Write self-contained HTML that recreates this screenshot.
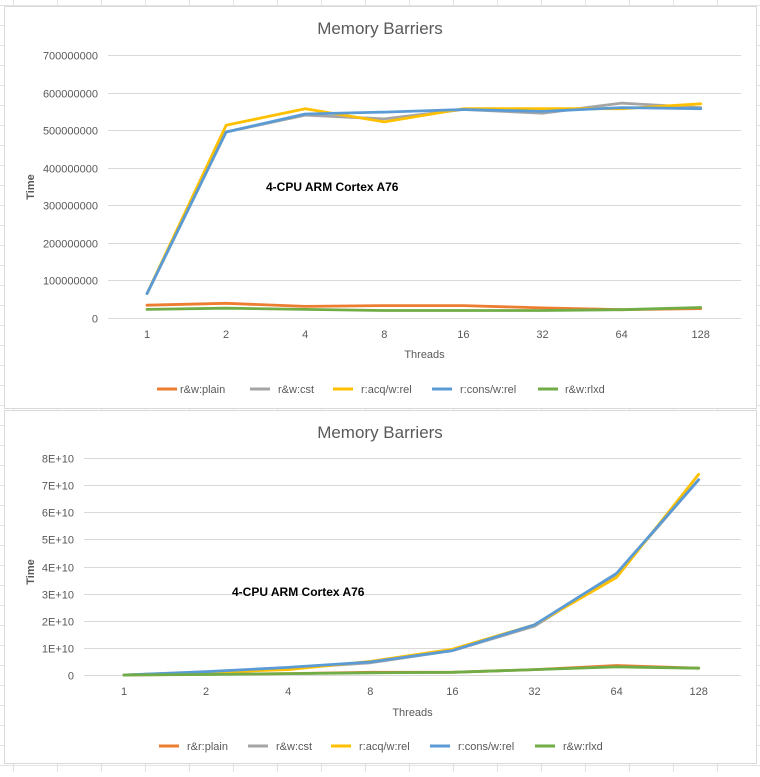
<!DOCTYPE html>
<html><head><meta charset="utf-8"><style>
html,body{margin:0;padding:0;background:#fff;}
body{width:760px;height:772px;overflow:hidden;font-family:"Liberation Sans",sans-serif;}
svg text{font-family:"Liberation Sans",sans-serif;}
</style></head><body>
<svg id="svg" width="760" height="772" viewBox="0 0 760 772" xmlns="http://www.w3.org/2000/svg">
<g id="bggrid"></g>
<rect x="4.5" y="6.5" width="752" height="402" fill="#fff" stroke="#d9d9d9"/>
<rect x="4.5" y="410.5" width="752" height="353" fill="#fff" stroke="#d9d9d9"/>
<g id="c1"></g>
<g id="c2"></g>
</svg>
<script>
const categories = ["1","2","4","8","16","32","64","128"];
const seriesNames1 = ["r&w:plain","r&w:cst","r:acq/w:rel","r:cons/w:rel","r&w:rlxd"];
const seriesNames2 = ["r&r:plain","r&w:cst","r:acq/w:rel","r:cons/w:rel","r&w:rlxd"];
const colors = ["#ED7D31","#A5A5A5","#FFC000","#5B9BD5","#70AD47"];
// top chart values
const top_plain = [34e6,39e6,31e6,33e6,33e6,27e6,22e6,25e6];
const top_cst   = [65e6,495e6,540e6,530e6,555e6,545e6,572e6,560e6];
const top_acq   = [65e6,513e6,557e6,522e6,557e6,557e6,557e6,570e6];
const top_cons  = [65e6,495e6,543e6,548e6,555e6,550e6,560e6,557e6];
const top_rlxd  = [23e6,26e6,23e6,20e6,20e6,20e6,22e6,28e6];
const topTicks = ["0","100000000","200000000","300000000","400000000","500000000","600000000","700000000"];
const topTickVals = [0,1e8,2e8,3e8,4e8,5e8,6e8,7e8];
// bottom chart values
const bot_plain = [0,0.03e10,0.05e10,0.1e10,0.1e10,0.2e10,0.35e10,0.25e10];
const bot_cst   = [0,0.1e10,0.25e10,0.45e10,0.9e10,1.8e10,3.7e10,7.2e10];
const bot_acq   = [0,0.1e10,0.2e10,0.5e10,0.95e10,1.85e10,3.6e10,7.4e10];
const bot_cons  = [0,0.12e10,0.28e10,0.48e10,0.9e10,1.85e10,3.75e10,7.2e10];
const bot_rlxd  = [0,0.02e10,0.05e10,0.08e10,0.1e10,0.2e10,0.3e10,0.25e10];
const botTicks = ["0","1E+10","2E+10","3E+10","4E+10","5E+10","6E+10","7E+10","8E+10"];
const botTickVals = [0,1e10,2e10,3e10,4e10,5e10,6e10,7e10,8e10];

const NS="http://www.w3.org/2000/svg";
function mk(parent,tag,attrs,text){const e=document.createElementNS(NS,tag);for(const k in attrs)e.setAttribute(k,attrs[k]);if(text!==undefined)e.textContent=text;parent.appendChild(e);return e;}

// background spreadsheet grid
const bg=document.getElementById('bggrid');
for(let x=13;x<760;x+=44){const l=mk(bg,'line',{x1:x+.5,y1:0,x2:x+.5,y2:772,stroke:'#e3e3e3'});}
for(let y=5;y<772;y+=20){const l=mk(bg,'line',{x1:0,y1:y+.5,x2:760,y2:y+.5,stroke:'#e3e3e3'});}

function chart(g,cfg){
  const {x0,dx,y0,ymax,ytop,gl,gr,tickLabels,tickVals,series,names,titleY,xlabY,thrY,timeY,legY,legItems,annX,annY}=cfg;
  const xs=i=>x0+i*dx;
  const ys=v=>y0-(v/ymax)*(y0-ytop);
  let t=mk(g,'text',{x:380,y:titleY,'text-anchor':'middle','font-size':17,fill:'#595959'},'Memory Barriers');
  
  tickVals.forEach((v,i)=>{
    const y=Math.round(ys(v))+.5;
    const l=mk(g,'line',{x1:gl,y1:y,x2:gr,y2:y,stroke:'#d9d9d9','stroke-width':1});
    
    const tt=mk(g,'text',{x:gl-10,y:y+4,'text-anchor':'end','font-size':11,fill:'#595959'},tickLabels[i]);
    
  });
  categories.forEach((c,i)=>{
    const tt=mk(g,'text',{x:xs(i),y:xlabY,'text-anchor':'middle','font-size':11,fill:'#595959'},c);
    
  });
  t=mk(g,'text',{x:(gl+gr)/2,y:thrY,'text-anchor':'middle','font-size':11,fill:'#595959'},'Threads');
  
  t=mk(g,'text',{x:34,y:timeY,'text-anchor':'middle','font-size':11,'font-weight':'bold',fill:'#595959',transform:`rotate(-90 34 ${timeY})`},'Time');
  
  series.forEach((s,k)=>{
    const d=s.map((v,i)=>(i?'L':'M')+xs(i).toFixed(1)+' '+ys(v).toFixed(1)).join(' ');
    const p=mk(g,'path',{d:d,fill:'none',stroke:colors[k],'stroke-width':2.8,'stroke-linejoin':'round','stroke-linecap':'round'});
    
  });
  t=mk(g,'text',{x:annX,y:annY,'font-size':12,'font-weight':'bold',fill:'#000'},'4-CPU ARM Cortex A76');
  
  names.forEach((n,k)=>{
    const [lx,tx]=legItems[k];
    const l=mk(g,'line',{x1:lx,y1:legY,x2:lx+20,y2:legY,stroke:colors[k],'stroke-width':3});
    
    const tt=mk(g,'text',{x:tx,y:legY+4,'font-size':11,fill:'#595959'},n);
    
  });
}
chart(document.getElementById('c1'),{x0:147,dx:79.1,y0:318,ymax:7e8,ytop:55,gl:108,gr:741,tickLabels:topTicks,tickVals:topTickVals,
  series:[top_plain,top_cst,top_acq,top_cons,top_rlxd],names:seriesNames1,titleY:34,xlabY:338,thrY:358,timeY:187,legY:389,
  legItems:[[157,180],[250,278],[333,361],[432,460],[538,565]],annX:266,annY:191});
chart(document.getElementById('c2'),{x0:124,dx:82.1,y0:675,ymax:8e10,ytop:458,gl:84,gr:741,tickLabels:botTicks,tickVals:botTickVals,
  series:[bot_plain,bot_cst,bot_acq,bot_cons,bot_rlxd],names:seriesNames2,titleY:438,xlabY:695,thrY:716,timeY:572,legY:746,
  legItems:[[159,187],[248,276],[331,359],[430,458],[535,563]],annX:232,annY:596});
</script>
</body></html>
